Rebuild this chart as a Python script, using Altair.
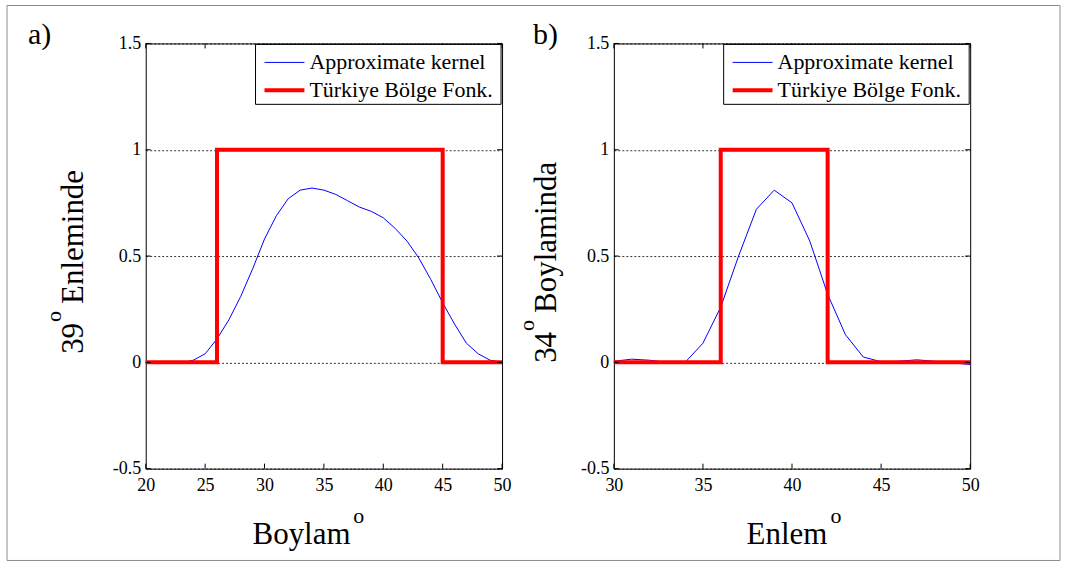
import altair as alt
import pandas as pd

FONT = "Liberation Serif"

# ---------------- data ----------------
a_x = list(range(20, 51))
a_kernel = [0.0, 0.0, -0.005, -0.003, 0.01, 0.04, 0.11, 0.20, 0.31, 0.44,
            0.58, 0.69, 0.77, 0.81, 0.82, 0.81, 0.79, 0.76, 0.73, 0.71,
            0.68, 0.63, 0.57, 0.49, 0.39, 0.28, 0.18, 0.09, 0.04, 0.01, 0.0]
a_step_x = [20, 26, 26, 45, 45, 50]
a_step_y = [0, 0, 1, 1, 0, 0]
a_xticks = [20, 25, 30, 35, 40, 45, 50]

b_x = list(range(30, 51))
b_kernel = [0.005, 0.015, 0.01, 0.0, 0.0, 0.09, 0.26, 0.50, 0.72, 0.81,
            0.75, 0.57, 0.32, 0.13, 0.025, 0.003, 0.005, 0.012, 0.005, -0.003, -0.01]
b_step_x = [30, 36, 36, 42, 42, 50]
b_step_y = [0, 0, 1, 1, 0, 0]
b_xticks = [30, 35, 40, 45, 50]

yticks = [-0.5, 0, 0.5, 1, 1.5]
legend_labels = ["Approximate kernel", "Türkiye Bölge Fonk."]

W, H = 357, 426


def txt(text, x, y, size, angle=0, align="left", baseline="alphabetic"):
    kw = dict(align=align, baseline=baseline, font=FONT, fontSize=size, color="black")
    if angle:
        kw["angle"] = angle
    return alt.Chart(pd.DataFrame({"t": [text]})).mark_text(**kw).encode(
        x=alt.value(x), y=alt.value(y), text="t:N")


def panel(xs, ks, sx, sy, xticks, letter, letter_x, xt_word, xt_x, yt_num, yt_word, yt_x, yt_start, frame=False):
    xdom = [xticks[0], xticks[-1]]
    xscale = alt.Scale(domain=xdom, nice=False, zero=False)
    yscale = alt.Scale(domain=[-0.5, 1.5], nice=False, zero=False)

    kernel = alt.Chart(pd.DataFrame({"x": xs, "y": ks})).mark_line(
        color="#0000ff", strokeWidth=1).encode(
        x=alt.X("x:Q", scale=xscale,
                axis=alt.Axis(values=xticks, title=None, grid=False, ticks=False, domain=False,
                              labelPadding=8, labelFontSize=18, labelFont=FONT,
                              labelColor="black", labelFlush=False)),
        y=alt.Y("y:Q", scale=yscale,
                axis=alt.Axis(values=yticks, title=None, grid=True, gridDash=[2, 2],
                              gridColor="black", gridWidth=0.8, gridOpacity=1,
                              ticks=False, domain=False, labelPadding=5, labelFontSize=18,
                              labelFont=FONT, labelColor="black",
                              labelExpr="toString(datum.value)")),
    )
    step = alt.Chart(pd.DataFrame({"x": sx, "y": sy, "i": list(range(len(sx)))})).mark_line(
        color="#ff0000", strokeWidth=4, strokeJoin="miter").encode(
        x="x:Q", y="y:Q", order="i:Q")

    xt = pd.DataFrame({"x": xticks})
    yt = pd.DataFrame({"y": yticks})
    tick_b = alt.Chart(xt).mark_rule(color="black", strokeWidth=1).encode(
        x="x:Q", y=alt.value(H), y2=alt.value(H - 5))
    tick_t = alt.Chart(xt).mark_rule(color="black", strokeWidth=1).encode(
        x="x:Q", y=alt.value(0), y2=alt.value(5))
    tick_l = alt.Chart(yt).mark_rule(color="black", strokeWidth=1).encode(
        y="y:Q", x=alt.value(0), x2=alt.value(5))
    tick_r = alt.Chart(yt).mark_rule(color="black", strokeWidth=1).encode(
        y="y:Q", x=alt.value(W - 5), x2=alt.value(W))

    one = pd.DataFrame({"k": [0]})
    leg_box = alt.Chart(one).mark_rect(fill="white", stroke="black", strokeWidth=1).encode(
        x=alt.value(110), x2=alt.value(W - 1), y=alt.value(1), y2=alt.value(61))
    leg_l1 = alt.Chart(one).mark_rule(color="#0000ff", strokeWidth=1).encode(
        x=alt.value(119), x2=alt.value(159), y=alt.value(19))
    leg_l2 = alt.Chart(one).mark_rule(color="#ff0000", strokeWidth=4).encode(
        x=alt.value(119), x2=alt.value(159), y=alt.value(47))
    leg_t1 = txt(legend_labels[0], 164, 19, 22, baseline="middle")
    leg_t2 = txt(legend_labels[1], 164, 47, 22, baseline="middle")

    layers = [kernel, step, tick_b, tick_t, tick_l, tick_r,
              leg_box, leg_l1, leg_l2, leg_t1, leg_t2,
              txt(letter, letter_x, 1, 30)]
    # x title with superscript o
    layers.append(txt(xt_word[0], xt_x, 501, 31))
    layers.append(txt("o", xt_x + xt_word[1] + 3, 480, 22))
    # y title (rotated) number + superscript o + word
    layers.append(txt(yt_num, yt_x, yt_start, 31, angle=270))
    layers.append(txt("o", yt_x - 22, yt_start - 32, 22, angle=270))
    layers.append(txt(yt_word, yt_x, yt_start - 50, 31, angle=270))

    if frame:
        fr = alt.Chart(one).mark_rect(fillOpacity=0, stroke="#8c8c8c", strokeWidth=1).encode(
            x=alt.value(-139), x2=alt.value(916), y=alt.value(-38), y2=alt.value(518))
        layers = [fr] + layers
    return alt.layer(*layers).properties(width=W, height=H)


pa = panel(a_x, a_kernel, a_step_x, a_step_y, a_xticks, "a)", -118,
           ("Boylam", 98), 107, "39", "Enleminde", -63, 311, frame=True)
pb = panel(b_x, b_kernel, b_step_x, b_step_y, b_xticks, "b)", -81,
           ("Enlem", 81), 133, "34", "Boylaminda", -58, 320)

chart = alt.hconcat(pa, pb, spacing=112, bounds="flush").configure_view(
    stroke="black", strokeWidth=1).properties(
    padding={"left": 6, "top": 4, "right": 6, "bottom": 6}, background="white")

chart.save("out.html", embed_options={"renderer": "svg", "actions": False})
